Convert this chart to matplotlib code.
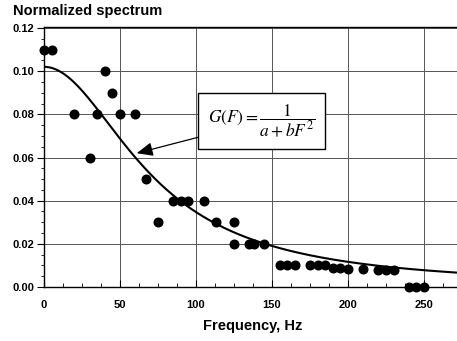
import numpy as np
import matplotlib.pyplot as plt

# data
freq = [0, 5, 20, 30, 35, 40, 45, 50, 60, 67, 75, 85, 90, 95, 105, 113,
        125, 125, 135, 138, 145, 155, 160, 165, 175, 180, 185, 190, 195, 200,
        210, 220, 225, 230, 240, 245, 250]
spec = [0.11, 0.11, 0.08, 0.06, 0.08, 0.10, 0.09, 0.08, 0.08, 0.05, 0.03, 0.04, 0.04, 0.04, 0.04, 0.03,
        0.03, 0.02, 0.02, 0.02, 0.02, 0.01, 0.01, 0.01, 0.01, 0.01, 0.01, 0.009, 0.009, 0.0085,
        0.0085, 0.008, 0.008, 0.008, 0.0, 0.0, 0.0]
a = 9.8
b = 0.0019

F = np.linspace(0, 275, 400)
G = 1 / (a + b * F ** 2)

plt.rcParams['font.family'] = ['Liberation Sans', 'DejaVu Sans']
plt.rcParams['mathtext.fontset'] = 'stix'

fig = plt.figure(figsize=(4.57, 3.41), dpi=100)
ax = fig.add_axes([44 / 457, 1 - 287 / 341, (462 - 44) / 457, (287 - 27) / 341])

ax.plot(F, G, color='black', lw=1.5)
ax.plot(freq, spec, 'o', color='black', ms=6.2, clip_on=False, zorder=3)

ax.set_xlim(0, 275)
ax.set_ylim(0, 0.1205)
ax.set_xticks([0, 50, 100, 150, 200, 250])
ax.set_xticks(np.arange(0, 275, 12.5), minor=True)
ax.set_yticks([0.00, 0.02, 0.04, 0.06, 0.08, 0.10, 0.12])
ax.set_yticks(np.arange(0, 0.121, 0.005), minor=True)
ax.set_yticklabels(['0.00', '0.02', '0.04', '0.06', '0.08', '0.10', '0.12'])
ax.tick_params(axis='x', which='both', direction='in', labelsize=8, pad=9)
ax.tick_params(axis='x', which='major', length=5)
ax.tick_params(axis='x', which='minor', length=3)
ax.tick_params(axis='y', which='both', direction='out', labelsize=8, pad=2)
ax.tick_params(axis='y', which='major', length=5)
ax.tick_params(axis='y', which='minor', length=2.5)
for lab in ax.get_xticklabels() + ax.get_yticklabels():
    lab.set_fontweight('bold')
ax.grid(True, which='major', color='#555555', lw=0.7)
ax.spines['right'].set_visible(False)
for s in ['left', 'bottom', 'top']:
    ax.spines[s].set_linewidth(1.0)

ax.annotate(r'$G(F)=\dfrac{1}{a+bF^2}$', xy=(61, 0.062), xytext=(143, 0.077),
            fontsize=12.5, ha='center', va='center',
            bbox=dict(boxstyle='square,pad=0.55', fc='white', ec='black', lw=1),
            arrowprops=dict(arrowstyle='-|>,head_length=0.7,head_width=0.3', color='black',
                            lw=0.9, mutation_scale=14, shrinkA=0, shrinkB=0))

fig.text(13 / 457, 1 - 11 / 341, 'Normalized spectrum', fontsize=10.5, fontweight='bold',
         ha='left', va='center')
fig.text(253 / 457, 1 - 326 / 341, 'Frequency, Hz', fontsize=10.5, fontweight='bold',
         ha='center', va='center')

fig.savefig('out.png', dpi=100)
